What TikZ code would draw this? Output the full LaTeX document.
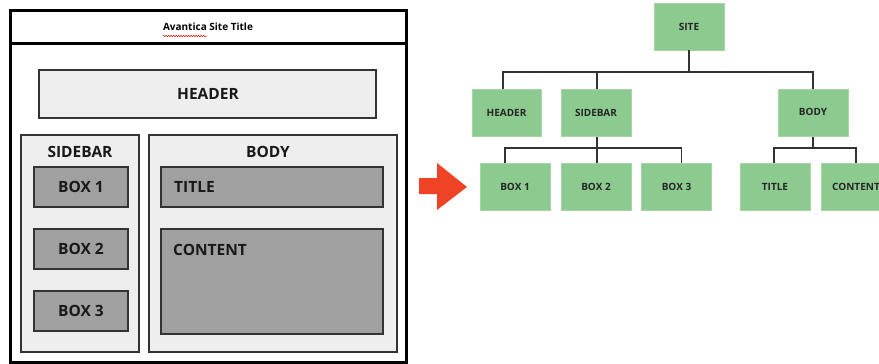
\documentclass[tikz,border=0pt]{standalone}
\usepackage{fontspec}
\setmainfont{Open Sans}
\usetikzlibrary{decorations.pathmorphing}
\definecolor{panel}{HTML}{EEEEEE}
\definecolor{slot}{HTML}{A0A0A0}
\definecolor{edge}{HTML}{333333}
\definecolor{leaf}{HTML}{8CCA8F}
\definecolor{pointer}{HTML}{EE4425}
\tikzset{
  panelbox/.style={draw=edge, line width=1.4pt, fill=panel},
  slotbox/.style={draw=edge, line width=1.4pt, fill=slot},
  biglabel/.style={font=\bfseries\fontsize{15.5}{18}\selectfont, text=black!90, inner sep=0pt},
  treebox/.style={fill=leaf, draw=leaf!80!white, line width=0.6pt, minimum width=70pt, minimum height=47pt,
    inner sep=0pt, font=\bfseries\fontsize{10}{11}\selectfont, text=black!85},
  treeline/.style={draw=edge, line width=1.2pt}
}
\begin{document}
\begin{tikzpicture}[x=1pt,y=-1pt]
\useasboundingbox (0,0) rectangle (879,364);
\clip (0,0) rectangle (879,364);

% ---- page layout wireframe ----
\draw[line width=3pt, black] (10,10) rectangle (406,362);
\draw[line width=3pt, black] (10,43) -- (406,43);
\node[font=\bfseries\fontsize{10}{12}\selectfont, inner sep=0pt] (sitetitle) at (208,27) {Avantica Site Title};
\draw[red!85!black, line width=0.5pt, decorate, decoration={snake, amplitude=0.7pt, segment length=2.5pt}]
  ([yshift=-5pt]sitetitle.south west) -- ++(44,0);

\draw[panelbox] (39,70) rectangle (376,118);
\node[biglabel] (hdr) at (208,94) {HEADER};

\draw[panelbox] (21,135) rectangle (139,352);
\node[biglabel] (sbl) at (80,152) {SIDEBAR};
\draw[panelbox] (149,135) rectangle (397,352);
\node[biglabel] (bdl) at (268,152) {BODY};

\draw[slotbox] (34,167) rectangle (128,207);
\node[biglabel] (b1) at (81,187) {BOX 1};
\draw[slotbox] (34,229) rectangle (128,269);
\node[biglabel] (b2) at (81,249) {BOX 2};
\draw[slotbox] (34,291) rectangle (128,331);
\node[biglabel] (b3) at (81,311) {BOX 3};

\draw[slotbox] (161,167) rectangle (383,207);
\node[biglabel, anchor=west] (ttl) at (174,187) {TITLE};
\draw[slotbox] (161,229) rectangle (383,334);
\node[biglabel, anchor=west] (cnt) at (173,250) {CONTENT};

% ---- arrow ----
\fill[pointer] (419,178) -- (437,178) -- (437,163) -- (467,187) -- (437,210) -- (437,194) -- (419,194) -- cycle;

% ---- site tree ----
\node[treebox] (site) at (689,26.5) {SITE};
\node[treebox, minimum width=69pt] (header) at (506.5,113) {HEADER};
\node[treebox] (sidebar) at (596,113) {SIDEBAR};
\node[treebox] (body) at (813,113) {\raisebox{2pt}{BODY}};
\node[treebox] (box1) at (515,186.5) {BOX 1};
\node[treebox] (box2) at (596,186.5) {BOX 2};
\node[treebox] (box3) at (676.5,186.5) {BOX 3};
\node[treebox] (title) at (775,186.5) {TITLE};
\node[treebox] (content) at (856,186.5) {CONTENT};

\coordinate (j1) at (689,72);
\coordinate (j2) at (597,148);
\coordinate (j3) at (813,148);

\draw[treeline] (site.south) -- (j1);
\draw[treeline] ([xshift=-3.5pt]header.north) |- (j1) -| (body.north);
\draw[treeline] ([xshift=1pt]sidebar.north |- j1) -- ([xshift=1pt]sidebar.north);
\draw[treeline] ([xshift=1pt]sidebar.south) -- (j2);
\draw[treeline] ([xshift=-10pt]box1.north) |- (j2) -| ([xshift=5pt]box3.north);
\draw[treeline] (j2) -- ([xshift=1pt]box2.north);
\draw[treeline] (body.south) -- (j3);
\draw[treeline] ([xshift=-1pt]title.north) |- (j3) -| (content.north);
\end{tikzpicture}
\end{document}
